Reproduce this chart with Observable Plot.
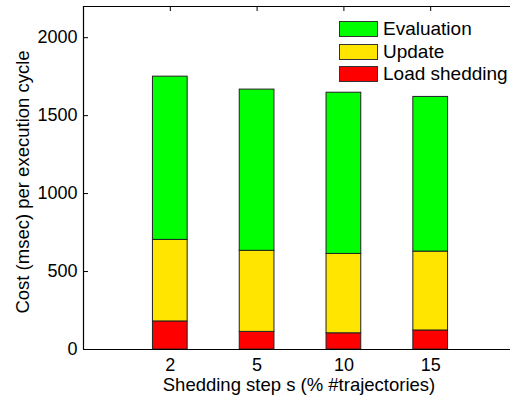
<!DOCTYPE html>
<html>
<head>
<meta charset="utf-8">
<script src="https://cdn.jsdelivr.net/npm/d3@7"></script>
<script src="https://cdn.jsdelivr.net/npm/@observablehq/plot@0.6"></script>
<style>
  html, body { margin: 0; padding: 0; background: #fff; }
  #wrap { position: relative; width: 510px; height: 396px; font-family: "Liberation Sans", Arial, sans-serif; }
  #legend { position: absolute; left: 339px; top: 18px; font-size: 19px; color: #000; }
  .row { display: flex; align-items: center; height: 22.5px; }
  .sw { width: 37px; height: 14px; border: 1px solid #333; margin-right: 5px; }
</style>
</head>
<body>
<div id="wrap"></div>
<script>
// Data
const steps = ["2", "5", "10", "15"];
const seriesNames = ["Load shedding", "Update", "Evaluation"];
const loadShedding = [180, 113, 104, 122];
const update = [523, 520, 509, 506];
const evaluation = [1047, 1034, 1034, 992];
const colors = ["#ff0000", "#ffe500", "#00ff00"];
const yTicks = [0, 500, 1000, 1500, 2000];

// Build stacked rows
const values = [loadShedding, update, evaluation];
const rows = [];
steps.forEach((s, i) => {
  let base = 0;
  values.forEach((arr, k) => {
    rows.push({step: s, i: i + 1, series: seriesNames[k], y1: base, y2: base + arr[i]});
    base += arr[i];
  });
});

const W = 510, H = 396, ML = 83, MT = 6, MB = 47;
const xIdx = steps.map((_, i) => i + 1);

const chart = Plot.plot({
  width: W,
  height: H,
  marginLeft: ML,
  marginRight: 0,
  marginTop: MT,
  marginBottom: MB,
  style: {fontFamily: "Liberation Sans, Arial, sans-serif", fontSize: "18px", color: "#000", background: "#fff"},
  x: {type: "linear", domain: [0, 5], range: [ML, 517], ticks: xIdx, tickFormat: i => steps[i - 1], tickSize: 0, tickPadding: 9, label: null},
  y: {domain: [0, 2200], ticks: yTicks, tickFormat: d3.format("d"), tickSize: 0, tickPadding: 6, label: null},
  color: {domain: seriesNames, range: colors},
  marks: [
    // inward tick marks
    Plot.tickY(yTicks, {y: d => d, stroke: "#000", insetRight: W - ML - 5}),
    Plot.tickX(xIdx, {x: d => d, stroke: "#000", insetBottom: H - MT - MB - 5}),
    Plot.tickX(xIdx, {x: d => d, stroke: "#000", insetTop: H - MT - MB - 5}),
    Plot.rectY(rows, {x1: d => d.i - 0.2, x2: d => d.i + 0.2, y1: "y1", y2: "y2", fill: "series", stroke: "#222", strokeWidth: 1}),
    Plot.ruleY([0, 2200], {stroke: "#000", strokeWidth: 1.2}),
    Plot.ruleX([0, 5], {stroke: "#000", strokeWidth: 1.2})
  ]
});

const wrap = document.getElementById("wrap");
wrap.appendChild(chart);

// axis titles
const svg = d3.select(chart);
svg.append("text")
  .attr("x", 299).attr("y", 391)
  .attr("text-anchor", "middle")
  .attr("font-size", 18.5)
  .attr("fill", "#000")
  .text("Shedding step s (% #trajectories)");
svg.append("text")
  .attr("transform", "translate(29,182) rotate(-90)")
  .attr("text-anchor", "middle")
  .attr("font-size", 18.5)
  .attr("fill", "#000")
  .text("Cost (msec) per execution cycle");

// legend (top to bottom: Evaluation, Update, Load shedding)
const legend = document.createElement("div");
legend.id = "legend";
[2, 1, 0].forEach(k => {
  const row = document.createElement("div");
  row.className = "row";
  const sw = document.createElement("div");
  sw.className = "sw";
  sw.style.background = colors[k];
  const lab = document.createElement("span");
  lab.textContent = seriesNames[k];
  row.appendChild(sw);
  row.appendChild(lab);
  legend.appendChild(row);
});
wrap.appendChild(legend);
</script>
</body>
</html>
